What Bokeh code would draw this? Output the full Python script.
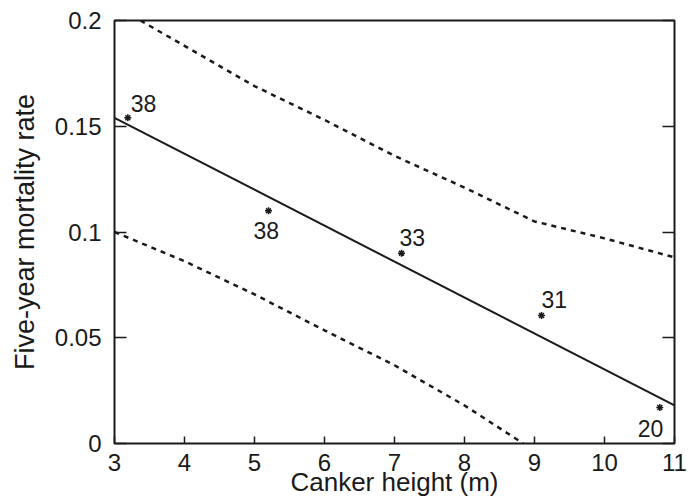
from bokeh.plotting import figure
from bokeh.models import (Range1d, LinearAxis, FixedTicker,
                          ColumnDataSource, CustomJSTickFormatter)
from bokeh.core.properties import value
from bokeh.embed import file_html
from bokeh.resources import INLINE

# ---- data ----
canker_height = [3.19, 5.2, 7.1, 9.1, 10.79]
mortality_rate = [0.154, 0.110, 0.090, 0.0605, 0.017]
sample_size = ["38", "38", "33", "31", "20"]

fit_x = [3, 11]
fit_y = [0.154, 0.018]

upper_x = [3.37, 4, 5, 6, 7, 8, 9, 10, 11]
upper_y = [0.2, 0.188, 0.169, 0.153, 0.136, 0.121, 0.105, 0.097, 0.088]

lower_x = [3, 4, 5, 6, 7, 8, 8.84]
lower_y = [0.1, 0.0862, 0.0705, 0.0535, 0.037, 0.018, 0.0]

x_ticks = [3, 4, 5, 6, 7, 8, 9, 10, 11]
y_ticks = [0, 0.05, 0.1, 0.15, 0.2]
y_tick_labels = ["0", "0.05", "0.1", "0.15", "0.2"]

x_title = "Canker height (m)"
y_title = "Five-year mortality rate"

# ---- styling (not data) ----
FONT = "Liberation Sans"
INK = "#1a1a1a"
label_dx = [3, -15, -2, 0, -22]
label_dy = [-14, 20, -16, -16, 21]

p = figure(width=688, height=499, x_range=Range1d(3, 11), y_range=Range1d(0, 0.2),
           output_backend="svg", toolbar_location=None,
           x_axis_location=None, y_axis_location=None,
           min_border_left=114, min_border_right=14,
           min_border_top=20, min_border_bottom=56)
p.grid.visible = False
p.outline_line_color = INK
p.outline_line_width = 2
p.background_fill_color = "white"
p.border_fill_color = "white"


def style_axis(ax, tick_in):
    ax.axis_line_color = None
    ax.major_tick_in = tick_in
    ax.major_tick_out = 0
    ax.minor_tick_line_color = None
    ax.major_tick_line_color = INK
    ax.major_tick_line_width = 1.5
    ax.major_label_text_font = FONT
    ax.major_label_text_font_size = "24px"
    ax.major_label_text_color = INK
    ax.axis_label_text_font = FONT
    ax.axis_label_text_font_size = "26px"
    ax.axis_label_text_font_style = "normal"
    ax.axis_label_text_color = INK


xaxis = LinearAxis(ticker=FixedTicker(ticks=x_ticks), axis_label=x_title)
style_axis(xaxis, 7)
xaxis.major_label_standoff = 10
xaxis.axis_label_standoff = -7
p.add_layout(xaxis, "below")

yfmt = CustomJSTickFormatter(args=dict(vals=y_ticks, labs=y_tick_labels),
                             code="const i = vals.indexOf(tick); return i >= 0 ? labs[i] : String(tick);")
yaxis = LinearAxis(ticker=FixedTicker(ticks=y_ticks), formatter=yfmt, axis_label=y_title)
style_axis(yaxis, 12)
yaxis.axis_label_text_font_size = "27px"
yaxis.major_label_standoff = 13
yaxis.axis_label_standoff = 12
p.add_layout(yaxis, "left")

raxis = LinearAxis(ticker=FixedTicker(ticks=y_ticks),
                   formatter=CustomJSTickFormatter(code="return '';"))
style_axis(raxis, 12)
raxis.major_label_standoff = 0
p.add_layout(raxis, "right")

# confidence band and fitted line
p.line(upper_x, upper_y, line_color=INK, line_width=2.5, line_dash="5 5")
p.line(lower_x, lower_y, line_color=INK, line_width=2.5, line_dash="5 5")
p.line(fit_x, fit_y, line_color=INK, line_width=2)

src = ColumnDataSource(dict(x=canker_height, y=mortality_rate, t=sample_size,
                            dx=label_dx, dy=label_dy))
p.scatter("x", "y", source=src, marker="asterisk", size=7, line_width=1.5,
          line_color=INK)
p.text("x", "y", text="t", source=src, x_offset="dx", y_offset="dy",
       text_font=value(FONT), text_font_size="23px", text_color=INK,
       text_align="left", text_baseline="alphabetic")

open("out.html", "w").write(file_html(p, INLINE))
